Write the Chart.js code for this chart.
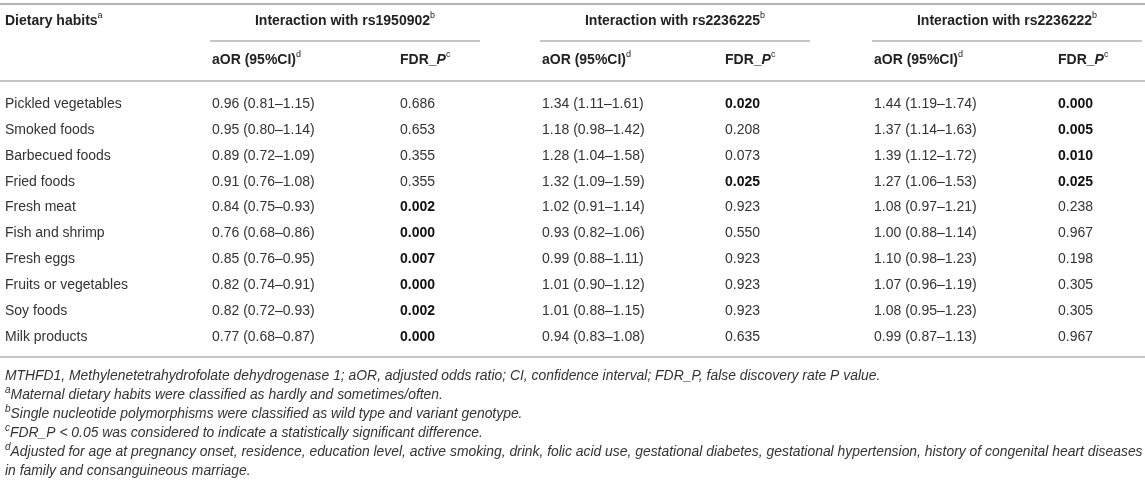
<!DOCTYPE html>
<html><head><meta charset="utf-8">
<script src="https://cdn.jsdelivr.net/npm/chart.js@4.4.1/dist/chart.umd.min.js"></script>
<style>html,body{margin:0;padding:0;background:#fff}#wrap{width:1145px;height:493px;position:relative}</style>
</head><body><div id="wrap"><canvas id="c"></canvas></div>
<script>
// ---------- DATA ----------
const habits = ["Pickled vegetables","Smoked foods","Barbecued foods","Fried foods","Fresh meat","Fish and shrimp","Fresh eggs","Fruits or vegetables","Soy foods","Milk products"];
const snps = ["rs1950902","rs2236225","rs2236222"];
const or1 = [0.96,0.95,0.89,0.91,0.84,0.76,0.85,0.82,0.82,0.77];
const lo1 = [0.81,0.80,0.72,0.76,0.75,0.68,0.76,0.74,0.72,0.68];
const hi1 = [1.15,1.14,1.09,1.08,0.93,0.86,0.95,0.91,0.93,0.87];
const p1  = [0.686,0.653,0.355,0.355,0.002,0.000,0.007,0.000,0.002,0.000];
const or2 = [1.34,1.18,1.28,1.32,1.02,0.93,0.99,1.01,1.01,0.94];
const lo2 = [1.11,0.98,1.04,1.09,0.91,0.82,0.88,0.90,0.88,0.83];
const hi2 = [1.61,1.42,1.58,1.59,1.14,1.06,1.11,1.12,1.15,1.08];
const p2  = [0.020,0.208,0.073,0.025,0.923,0.550,0.923,0.923,0.923,0.635];
const or3 = [1.44,1.37,1.39,1.27,1.08,1.00,1.10,1.07,1.08,0.99];
const lo3 = [1.19,1.14,1.12,1.06,0.97,0.88,0.98,0.96,0.95,0.87];
const hi3 = [1.74,1.63,1.72,1.53,1.21,1.14,1.23,1.19,1.23,1.13];
const p3  = [0.000,0.005,0.010,0.025,0.238,0.967,0.198,0.305,0.305,0.967];
const sigLevel = 0.05;
const footnoteMarks = ["","a","b","c","d",""];
const footnotes = [
 "MTHFD1, Methylenetetrahydrofolate dehydrogenase 1; aOR, adjusted odds ratio; CI, confidence interval; FDR_P, false discovery rate P value.",
 "Maternal dietary habits were classified as hardly and sometimes/often.",
 "Single nucleotide polymorphisms were classified as wild type and variant genotype.",
 "FDR_P < 0.05 was considered to indicate a statistically significant difference.",
 "Adjusted for age at pregnancy onset, residence, education level, active smoking, drink, folic acid use, gestational diabetes, gestational hypertension, history of congenital heart diseases",
 "in family and consanguineous marriage."
];

// ---------- LAYOUT ----------
const W = 1145, H = 493;
const colX = [5, 212, 400, 542, 725, 874, 1058];
const spanX = [[210,480],[540,810],[872,1142]];
const ROW0 = 104, STEP = 25.9;
const rowUnit = px => (px - ROW0) / STEP;
const FONT = '"Liberation Sans", Arial, Helvetica, sans-serif';
const TXT = '#333', HEAD = '#222', RULE = '#b3b3b3';

const fmtOR = (o,l,h) => o.toFixed(2)+' ('+l.toFixed(2)+'\u2013'+h.toFixed(2)+')';
const orCols = [[or1,lo1,hi1],[or2,lo2,hi2],[or3,lo3,hi3]];
const pCols = [p1,p2,p3];

const datasets = [];
datasets.push({label:'habit', cellText:habits, cellBold:habits.map(()=>false),
  data: habits.map((_,i)=>({x:colX[0], y:i}))});
orCols.forEach((c,k)=>{
  datasets.push({label:'or'+k, cellText:c[0].map((o,i)=>fmtOR(o,c[1][i],c[2][i])), cellBold:c[0].map(()=>false),
    data:c[0].map((_,i)=>({x:colX[1+2*k], y:i}))});
  datasets.push({label:'p'+k, cellText:pCols[k].map(v=>v.toFixed(3)), cellBold:pCols[k].map(v=>v<sigLevel),
    data:pCols[k].map((_,i)=>({x:colX[2+2*k], y:i}))});
});

function drawRich(ctx, parts, x, y, align){
  let total = 0;
  parts.forEach(p=>{ctx.font=p.font; p.w=ctx.measureText(p.t).width; total+=p.w;});
  let cx = align==='center' ? x-total/2 : x;
  ctx.textAlign='left';
  parts.forEach(p=>{ctx.font=p.font; ctx.fillText(p.t, cx, y+(p.sup?-5:0)); cx+=p.w;});
}

const tablePlugin = {
  id:'table',
  afterDatasetsDraw(chart){
    const ctx = chart.ctx, xs = chart.scales.x, ys = chart.scales.y;
    const X = v=>xs.getPixelForValue(v), Y = v=>ys.getPixelForValue(rowUnit(v));
    ctx.save();
    ctx.textBaseline='middle';
    const rule=(x0,x1,yy,lw)=>{ctx.strokeStyle=RULE;ctx.lineWidth=lw;ctx.beginPath();ctx.moveTo(X(x0),Y(yy));ctx.lineTo(X(x1),Y(yy));ctx.stroke();};
    rule(0,W,4,2);
    spanX.forEach(s=>rule(s[0],s[1],41,1.5));
    rule(0,W,81,1.5);
    rule(0,W,357,1.5);
    const B='bold 14px '+FONT, BI='italic bold 14px '+FONT, SUP='9px '+FONT;
    ctx.fillStyle=HEAD;
    drawRich(ctx,[{t:'Dietary habits',font:B},{t:'a',font:SUP,sup:true}],X(colX[0]),Y(21),'left');
    snps.forEach((s,k)=>{
      drawRich(ctx,[{t:'Interaction with '+s,font:B},{t:'b',font:SUP,sup:true}],X((spanX[k][0]+spanX[k][1])/2),Y(21),'center');
      drawRich(ctx,[{t:'aOR (95%CI)',font:B},{t:'d',font:SUP,sup:true}],X(colX[1+2*k]),Y(60),'left');
      drawRich(ctx,[{t:'FDR_',font:B},{t:'P',font:BI},{t:'c',font:SUP,sup:true}],X(colX[2+2*k]),Y(60),'left');
    });
    chart.data.datasets.forEach((ds,di)=>{
      const meta = chart.getDatasetMeta(di);
      meta.data.forEach((el,i)=>{
        ctx.font=(ds.cellBold[i]?'bold ':'')+'14px '+FONT;
        ctx.fillStyle = ds.cellBold[i]?'#111':TXT;
        ctx.textAlign='left';
        ctx.fillText(ds.cellText[i], el.x, el.y);
      });
    });
    const fy=[376,395,414,433,452,471];
    ctx.fillStyle=TXT;
    footnotes.forEach((f,i)=>{
      const parts=[];
      if(footnoteMarks[i]) parts.push({t:footnoteMarks[i],font:'italic 10px '+FONT,sup:true});
      parts.push({t:f,font:'italic 13.9px '+FONT});
      drawRich(ctx,parts,X(colX[0]),Y(fy[i]),'left');
    });
    ctx.restore();
  }
};

new Chart(document.getElementById('c'),{
  type:'scatter',
  data:{datasets},
  options:{
    responsive:true, maintainAspectRatio:false, animation:false,
    layout:{padding:0},
    elements:{point:{radius:0,hoverRadius:0}},
    plugins:{legend:{display:false},tooltip:{enabled:false}},
    events:[],
    scales:{
      x:{type:'linear',min:0,max:W,display:false},
      y:{type:'linear',reverse:true,min:rowUnit(0),max:rowUnit(H),display:false}
    }
  },
  plugins:[tablePlugin]
});
</script></body></html>
